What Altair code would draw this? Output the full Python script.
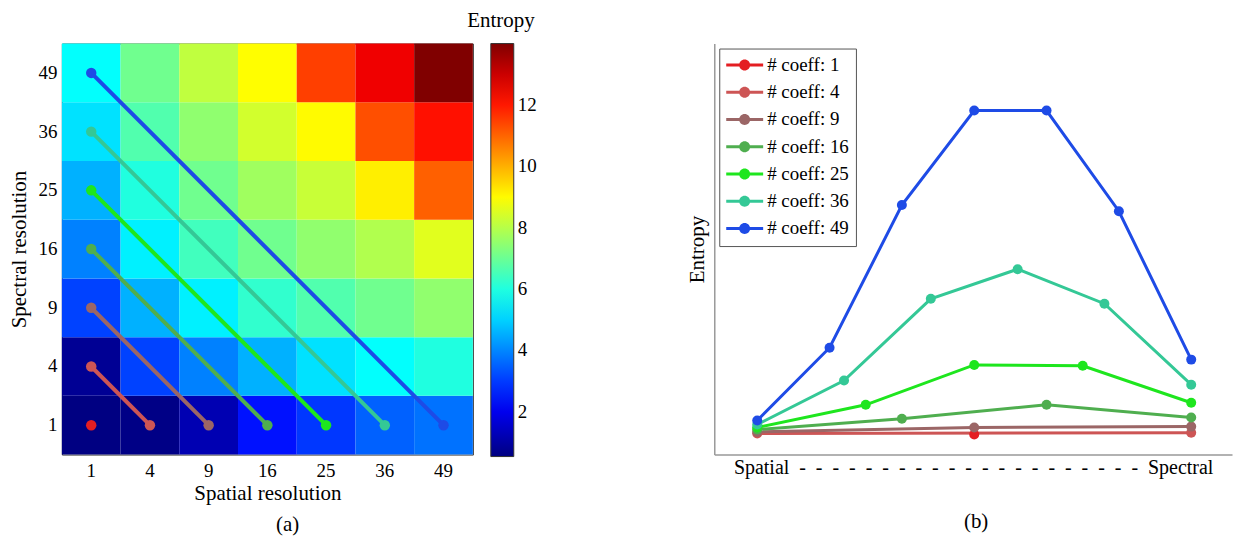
import altair as alt
import pandas as pd

FONT = "Liberation Serif"

# ---------------- data ----------------
res_labels = ["1", "4", "9", "16", "25", "36", "49"]

# entropy per cell: one list per spectral resolution, values over spatial resolution 1..49
entropy_spec_1 = [0.57, 0.62, 1.20, 2.45, 2.95, 3.50, 3.73]
entropy_spec_4 = [0.80, 3.09, 3.93, 4.56, 5.20, 5.61, 6.00]
entropy_spec_9 = [3.09, 4.56, 5.40, 6.24, 6.65, 7.07, 7.50]
entropy_spec_16 = [3.93, 5.40, 6.45, 7.07, 7.50, 7.92, 8.56]
entropy_spec_25 = [4.56, 6.01, 7.07, 7.70, 8.23, 9.16, 11.05]
entropy_spec_36 = [5.20, 6.65, 7.49, 8.36, 9.00, 11.28, 12.10]
entropy_spec_49 = [5.61, 7.07, 8.12, 8.96, 11.48, 12.52, 14.00]
entropy_rows = [entropy_spec_1, entropy_spec_4, entropy_spec_9, entropy_spec_16,
                entropy_spec_25, entropy_spec_36, entropy_spec_49]

cbar_min, cbar_max = 0.54, 14.0
cbar_ticks = [2, 4, 6, 8, 10, 12]

coeff_labels = ["# coeff: 1", "# coeff: 4", "# coeff: 9", "# coeff: 16",
                "# coeff: 25", "# coeff: 36", "# coeff: 49"]
coeff_colors = ["#e41e22", "#cd5555", "#9b6666", "#4fae4f",
                "#1ee61e", "#34c896", "#1e4be6"]

# panel (b): entropy profiles (arbitrary units, % of axis height)
profile_1 = [4.9]
profile_4 = [5.1, 5.3]
profile_9 = [5.5, 6.6, 6.8]
profile_16 = [6.1, 8.7, 12.1, 9.0]
profile_25 = [6.6, 12.1, 21.8, 21.6, 12.6]
profile_36 = [7.3, 18.0, 37.9, 45.1, 36.7, 17.0]
profile_49 = [8.3, 26.0, 60.7, 83.7, 83.7, 59.2, 23.1]
profiles = [profile_1, profile_4, profile_9, profile_16, profile_25, profile_36, profile_49]

x_title_b = "Spatial\u2002" + "\u2002".join(["-"] * 21) + "\u2002Spectral"

# ---------------- tables ----------------
heat_rows = []
for spec, row in zip(res_labels, entropy_rows):
    for spat, val in zip(res_labels, row):
        heat_rows.append({"spatial": spat, "spectral": spec, "entropy": val})
heat_df = pd.DataFrame(heat_rows)

# each coefficient count n: segment from (spatial 1, spectral n) to (spatial n, spectral 1)
path_rows = []
for k, (lab, col) in enumerate(zip(coeff_labels, coeff_colors)):
    ends = [0, k] if k > 0 else [0]
    for step, i in enumerate(ends):
        path_rows.append({"series": lab, "col": col, "step": step,
                          "spatial": res_labels[i], "spectral": res_labels[k - i]})
path_df = pd.DataFrame(path_rows)

prof_rows = []
for lab, vals in zip(coeff_labels, profiles):
    n = len(vals)
    for i, v in enumerate(vals):
        pos = i / (n - 1) if n > 1 else 0.5
        prof_rows.append({"series": lab, "step": i, "pos": pos, "value": v})
prof_df = pd.DataFrame(prof_rows)

# jet colormap stops
jet_t = [0.0, 0.125, 0.375, 0.625, 0.875, 1.0]
jet_c = ["#000080", "#0000ff", "#00ffff", "#ffff00", "#ff0000", "#800000"]
jet_domain = [cbar_min + t * (cbar_max - cbar_min) for t in jet_t]

# ---------------- panel (a) ----------------
xa = alt.X("spatial:O", sort=res_labels,
           scale=alt.Scale(paddingInner=0, paddingOuter=0),
           axis=alt.Axis(title="Spatial resolution", labelAngle=0, ticks=False,
                         domain=False, labelPadding=7, titlePadding=2))
ya = alt.Y("spectral:O", sort=res_labels[::-1],
           scale=alt.Scale(paddingInner=0, paddingOuter=0),
           axis=alt.Axis(title="Spectral resolution", ticks=False, domain=False,
                         labelPadding=5, titlePadding=8))

heat = alt.Chart(heat_df).mark_rect().encode(
    x=xa, y=ya,
    color=alt.Color("entropy:Q",
                    scale=alt.Scale(domain=jet_domain, range=jet_c, interpolate="rgb"),
                    legend=alt.Legend(title=None, orient="none", legendX=430, legendY=0,
                                      direction="vertical", gradientLength=414,
                                      gradientThickness=23, gradientStrokeColor="#333",
                                      gradientStrokeWidth=1, values=cbar_ticks,
                                      labelOffset=4, labelFontSize=19, padding=0))
)
diag_lines = alt.Chart(path_df).mark_line(strokeWidth=4).encode(
    x=alt.X("spatial:O", sort=res_labels), y=alt.Y("spectral:O", sort=res_labels[::-1]),
    detail="series:N", order="step:Q",
    stroke=alt.Stroke("col:N", scale=None)
)
diag_pts = alt.Chart(path_df).mark_circle(size=110, opacity=1).encode(
    x=alt.X("spatial:O", sort=res_labels), y=alt.Y("spectral:O", sort=res_labels[::-1]),
    fill=alt.Fill("col:N", scale=None)
)
panel_a = alt.layer(heat, diag_lines, diag_pts).properties(
    width=412, height=412,
    view=alt.ViewBackground(stroke="#333", strokeWidth=1),
    title=alt.TitleParams("Entropy", orient="top", anchor="end", frame="group",
                          dx=62, offset=13, fontSize=21, fontWeight="normal", font=FONT)
)

# ---------------- panel (b) ----------------
legend_path = ("M-1.73,-0.27 L5.0,-0.27 L5.0,0.27 L-1.73,0.27 Z "
               "M2.63,0 A1,1 0 1,1 0.63,0 A1,1 0 1,1 2.63,0 Z")

xb = alt.X("pos:Q", scale=alt.Scale(domain=[-0.099, 1.094], nice=False, zero=False),
           axis=alt.Axis(title=x_title_b, labels=False, ticks=False, grid=False,
                         domainColor="#999", domainWidth=1.5, titlePadding=3,
                         titleFontSize=20))
yb = alt.Y("value:Q", scale=alt.Scale(domain=[0, 100], nice=False),
           axis=alt.Axis(title="Entropy", labels=False, ticks=False, grid=False,
                         domainColor="#999", domainWidth=1.5, titlePadding=7))
cscale = alt.Scale(domain=coeff_labels, range=coeff_colors)

prof_lines = alt.Chart(prof_df).mark_line(strokeWidth=3).encode(
    x=xb, y=yb, order="step:Q",
    color=alt.Color("series:N", scale=cscale, sort=coeff_labels, legend=None)
)
prof_pts = alt.Chart(prof_df).mark_circle(size=100, opacity=1).encode(
    x=xb, y=yb,
    color=alt.Color("series:N", scale=cscale, sort=coeff_labels,
                    legend=alt.Legend(title=None, orient="top-left", offset=5,
                                      symbolType=legend_path, symbolSize=121,
                                      symbolStrokeWidth=0, symbolOpacity=1,
                                      labelOffset=22, labelFontSize=19, rowPadding=7.3,
                                      padding=7, strokeColor="#555", fillColor="white",
                                      cornerRadius=0))
)
panel_b = alt.layer(prof_lines, prof_pts).resolve_legend(color="independent").properties(
    width=519, height=412,
    title=alt.TitleParams("\u00a0", orient="top", anchor="end", frame="group",
                          offset=13, fontSize=21, fontWeight="normal", font=FONT)
)

cap_a = alt.vconcat(panel_a).properties(
    title=alt.TitleParams("(a)", orient="bottom", anchor="middle", dx=15,
                          offset=10, fontSize=21, fontWeight="normal", font=FONT)
)
cap_b = alt.vconcat(panel_b).properties(
    title=alt.TitleParams("(b)", orient="bottom", anchor="middle", dx=17,
                          offset=33, fontSize=21, fontWeight="normal", font=FONT)
)

chart = alt.hconcat(cap_a, cap_b, spacing=149).properties(
    padding={"left": 0, "top": 0, "right": 0, "bottom": 0}
).configure_view(stroke="transparent").configure_axis(
    labelFont=FONT, titleFont=FONT, labelFontSize=19, titleFontSize=21,
    titleFontWeight="normal", labelColor="black", titleColor="black"
).configure_legend(
    labelFont=FONT, titleFont=FONT, labelColor="black", titleColor="black"
)

chart.save("out.html", embed_options={"renderer": "svg", "actions": False})
